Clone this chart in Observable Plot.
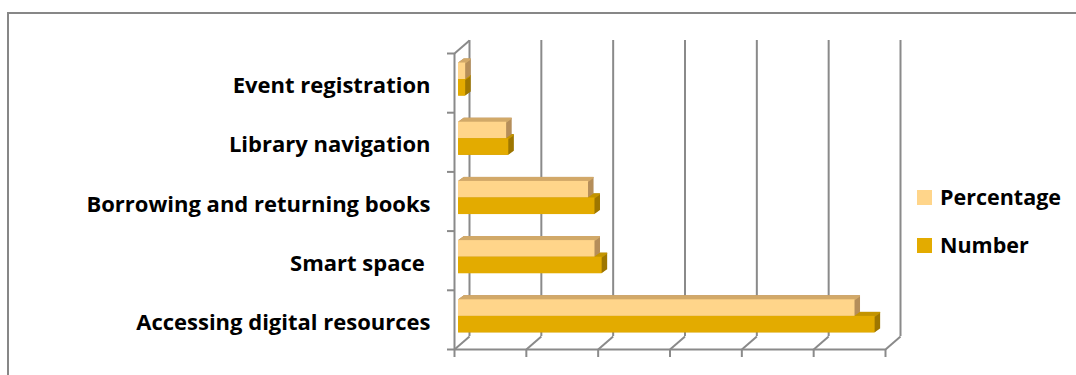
<!DOCTYPE html>
<html><head><meta charset="utf-8">
<script src="https://cdn.jsdelivr.net/npm/d3@7"></script>
<script src="https://cdn.jsdelivr.net/npm/@observablehq/plot@0.6"></script>
<style>
body{margin:0;background:#fff;}
#wrap{position:relative;width:1076px;height:375px;overflow:hidden;font-family:"Open Sans",Lato,sans-serif;}
#chart{position:absolute;left:0;top:0;}
#border{position:absolute;left:7px;top:12px;width:1200px;height:500px;border-left:2px solid #878787;border-top:2px solid #878787;pointer-events:none;}
#chart text{white-space:pre;}
.lg-row{position:absolute;left:917px;display:flex;align-items:center;height:20px;}
.lg-sw{width:15px;height:15px;margin-right:8px;}
.lg-tx{font-family:"Open Sans",sans-serif;font-weight:700;font-size:21.5px;color:#000;line-height:20px;}
</style></head>
<body>
<div id="wrap"><div id="chart"></div><div id="border"></div><div id="legend"></div></div>
<script>
// ---- data ----
const categories = ["Accessing digital resources", "Smart space ", "Borrowing and returning books", "Library navigation", "Event registration"];
const percentage = [55.2, 19.0, 18.1, 6.7, 1.0];
const number = [58, 20, 19, 7, 1];
const series = ["Percentage", "Number"];
const frontColors = ["#FFD58A", "#E3AB00"];
const topColors = ["#D2A96A", "#C49500"];
const sideColors = ["#B58E5A", "#9E7600"];
const xTicks = [0, 10, 20, 30, 40, 50, 60];

// ---- layout (pixels) ----
const W = 1076, H = 375;
const mL = 454, mR = 191, mT = 53, mB = 26;
const gridColor = "#8a8a8a";
const DXpx = 15, DYpx = 13;          // depth of the 3D box
const BX = 4, BY = 3.5;              // bar front-face depth offset
const EX = 5.5, EY = 4;              // bar extrusion
const barFrac = 0.28;                // half-group height in band units
const xMax = xTicks[xTicks.length - 1];
const nCat = categories.length;
const pxPerX = (W - mL - mR) / xMax;
const pxPerY = (H - mT - mB) / nCat;
const DXu = DXpx / pxPerX, DYu = DYpx / pxPerY;

const rows = categories.flatMap((c, i) => [
  {category: c, series: "Percentage", value: percentage[i], i, y1: i + 0.5, y2: i + 0.5 + barFrac},
  {category: c, series: "Number", value: number[i], i, y1: i + 0.5 - barFrac, y2: i + 0.5}
]);
const boundaries = d3.range(nCat + 1);

const marks = [];
// back wall gridlines
marks.push(Plot.ruleX(xTicks, {x: d => d, y1: 0, y2: nCat, dx: DXpx, dy: -DYpx, stroke: gridColor, strokeWidth: 2}));
// floor diagonals
marks.push(Plot.link(xTicks, {x1: d => d, y1: 0, x2: d => d + DXu, y2: DYu, stroke: gridColor, strokeWidth: 2}));
// top-left diagonal of the side wall
marks.push(Plot.link([0], {x1: 0, y1: nCat, x2: DXu, y2: nCat + DYu, stroke: gridColor, strokeWidth: 2}));
// front floor edge
marks.push(Plot.ruleY([0], {y: 0, x1: 0, x2: xMax, stroke: gridColor, strokeWidth: 2}));
// front left edge
marks.push(Plot.ruleX([0], {x: 0, y1: 0, y2: nCat, stroke: gridColor, strokeWidth: 2}));
// value ticks below floor
marks.push(Plot.ruleX(xTicks, {x: d => d, y1: 0, y2: 0, insetBottom: -8, stroke: gridColor, strokeWidth: 2}));
// category ticks
marks.push(Plot.ruleY(boundaries, {y: d => d, x1: 0, x2: 0, insetLeft: -7, stroke: gridColor, strokeWidth: 2}));

// bar extrusions (Number first, then Percentage), then fronts
const N = 12;
for (const s of ["Number", "Percentage"]) {
  const j = series.indexOf(s);
  const data = rows.filter(r => r.series === s);
  for (let k = 1; k <= N; k++) {
    marks.push(Plot.rect(data, {x1: 0, x2: "value", y1: "y1", y2: "y2", fill: sideColors[j],
      dx: BX + k * EX / N, dy: -(BY + k * EY / N)}));
  }
  for (let k = 1; k <= N; k++) {
    marks.push(Plot.rect(data, {x1: 0, x2: "value", y1: "y2", y2: "y2", insetBottom: -1.2, fill: topColors[j],
      dx: BX + k * EX / N, dy: -(BY + k * EY / N)}));
  }
}
series.forEach((s, j) => {
  marks.push(Plot.rect(rows.filter(r => r.series === s), {x1: 0, x2: "value", y1: "y1", y2: "y2",
    fill: frontColors[j], dx: BX, dy: -BY}));
});

// category labels
marks.push(Plot.text(categories, {x: 0, y: (d, i) => i + 0.5, text: d => d, textAnchor: "end",
  dx: -24, dy: 3, fontSize: 22, fontWeight: "bold", fill: "#000"}));

const chart = Plot.plot({
  width: W, height: H,
  marginLeft: mL, marginRight: mR, marginTop: mT, marginBottom: mB,
  style: {background: "transparent", fontFamily: "'Open Sans', Lato, sans-serif", overflow: "visible"},
  x: {domain: [0, xMax], axis: null},
  y: {domain: [0, nCat], axis: null},
  marks
});
document.getElementById("chart").appendChild(chart);

// legend
const legend = document.getElementById("legend");
const legendTops = [187, 235];
series.forEach((s, j) => {
  const row = document.createElement("div");
  row.className = "lg-row";
  row.style.top = legendTops[j] + "px";
  const sw = document.createElement("div");
  sw.className = "lg-sw";
  sw.style.background = frontColors[j];
  const tx = document.createElement("span");
  tx.className = "lg-tx";
  tx.textContent = s;
  row.appendChild(sw); row.appendChild(tx);
  legend.appendChild(row);
});
</script>
</body></html>
